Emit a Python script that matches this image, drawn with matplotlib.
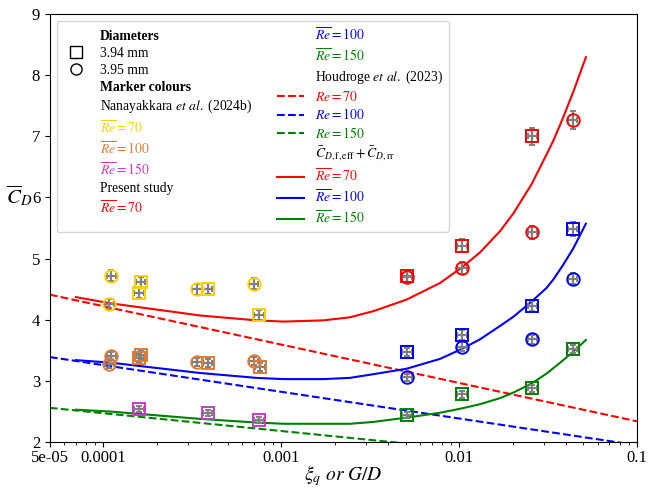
import matplotlib
matplotlib.use("Agg")
import matplotlib.pyplot as plt
from matplotlib.lines import Line2D
import numpy as np

plt.rcParams["font.family"] = "serif"
plt.rcParams["font.serif"] = ["Liberation Serif", "DejaVu Serif"]
plt.rcParams["mathtext.fontset"] = "stix"

# Nanayakkara et al. (2024b) measurements
nan70_circ_x = [1.11e-4, 1.08e-4, 3.36e-4, 7.0e-4]
nan70_circ_y = [4.72, 4.26, 4.50, 4.59]
nan70_sq_x = [1.62e-4, 1.59e-4, 3.87e-4, 7.5e-4]
nan70_sq_y = [4.61, 4.44, 4.51, 4.07]

nan100_circ_x = [1.11e-4, 1.08e-4, 3.36e-4, 7.0e-4]
nan100_circ_y = [3.41, 3.28, 3.31, 3.32]
nan100_sq_x = [1.62e-4, 1.59e-4, 3.87e-4, 7.6e-4]
nan100_sq_y = [3.43, 3.37, 3.30, 3.23]

nan150_sq_x = [1.59e-4, 3.85e-4, 7.5e-4]
nan150_sq_y = [2.54, 2.47, 2.36]

# present study
gd = [0.0051, 0.0104, 0.0258, 0.0435]
ps70_sq = [4.71, 5.21, 7.00]
ps70_circ = [4.70, 4.85, 5.43, 7.27]
ps100_sq = [3.47, 3.75, 4.23, 5.48]
ps100_circ = [3.06, 3.56, 3.68, 4.67]
ps150_sq = [2.45, 2.78, 2.88, 3.52]

# Houdroge et al. (2023), straight in log(x)
houd_x = [5e-5, 0.1]
houd70 = [4.41, 2.34]
houd100 = [3.39, 1.95]
houd150 = [2.56, 1.60]

# model curves C_D,f,eff + C_D,rr
model_x = [7e-5, 1.09e-4, 3.49e-4, 7.26e-4, 1.03e-3, 1.72e-3, 2.43e-3, 3.29e-3,
           5.07e-3, 7.8e-3, 1.03e-2, 1.31e-2, 1.7e-2, 2.02e-2, 2.56e-2, 3.1e-2,
           3.39e-2, 3.85e-2, 4.39e-2, 5.16e-2]
model70 = [4.37, 4.27, 4.07, 3.99, 3.97, 3.99, 4.04, 4.14, 4.33, 4.60, 4.85,
           5.10, 5.45, 5.74, 6.22, 6.70, 6.93, 7.31, 7.73, 8.29]
model100 = [3.34, 3.30, 3.13, 3.05, 3.03, 3.03, 3.05, 3.11, 3.20, 3.36, 3.52,
            3.68, 3.90, 4.05, 4.30, 4.52, 4.66, 4.90, 5.17, 5.57]
model150 = [2.53, 2.50, 2.38, 2.32, 2.30, 2.30, 2.30, 2.33, 2.40, 2.48, 2.55,
            2.62, 2.72, 2.81, 2.96, 3.12, 3.21, 3.34, 3.48, 3.67]

REL_ERR_X = 0.06
REL_ERR_Y = 0.02

c70n, c100n, c150n = "#FFD000", "#E07A35", "#C83CC8"
c70, c100, c150 = "red", "blue", "green"


def plot_points(ax, x, y, marker, color):
    x = np.asarray(x)
    y = np.asarray(y)
    ax.errorbar(x, y, xerr=REL_ERR_X * x, yerr=REL_ERR_Y * y, fmt="none",
                ecolor="gray", elinewidth=1.6, capsize=2.2, capthick=1.4, zorder=3)
    ax.plot(x, y, linestyle="none", marker=marker, markersize=9,
            markerfacecolor="none", markeredgecolor=color, markeredgewidth=1.4, zorder=4)


fig, ax = plt.subplots(figsize=(6.48, 4.94), dpi=100)
fig.subplots_adjust(left=0.077, right=0.983, bottom=0.105, top=0.972)

ax.plot(houd_x, houd70, "--", color=c70, lw=1.5)
ax.plot(houd_x, houd100, "--", color=c100, lw=1.5)
ax.plot(houd_x, houd150, "--", color=c150, lw=1.5)

ax.plot(model_x, model70, "-", color=c70, lw=1.5)
ax.plot(model_x, model100, "-", color=c100, lw=1.5)
ax.plot(model_x, model150, "-", color=c150, lw=1.5)

plot_points(ax, nan70_circ_x, nan70_circ_y, "o", c70n)
plot_points(ax, nan70_sq_x, nan70_sq_y, "s", c70n)
plot_points(ax, nan100_circ_x, nan100_circ_y, "o", c100n)
plot_points(ax, nan100_sq_x, nan100_sq_y, "s", c100n)
plot_points(ax, nan150_sq_x, nan150_sq_y, "s", c150n)

plot_points(ax, gd[:3], ps70_sq, "s", c70)
plot_points(ax, gd, ps70_circ, "o", c70)
plot_points(ax, gd, ps100_sq, "s", c100)
plot_points(ax, gd, ps100_circ, "o", c100)
plot_points(ax, gd, ps150_sq, "s", c150)

ax.set_xscale("log")
ax.set_xlim(5e-5, 0.1)
ax.set_ylim(2, 9)
ax.set_xticks([5e-5, 1e-4, 1e-3, 1e-2, 1e-1])
ax.set_xticklabels(["5e-05", "0.0001", "0.001", "0.01", "0.1"])
ax.tick_params(labelsize=12)
ax.tick_params(axis="x", pad=2)
ax.set_xlabel(r"$\xi_q\ or\ G/D$", fontsize=14, labelpad=-2)
ax.set_ylabel(r"$\overline{C}_D$", fontsize=15, rotation=0)
ax.yaxis.set_label_coords(-0.052, 0.545)

blank = Line2D([], [], linestyle="none")
entries = [
    (blank, "Diameters", "k"),
    (Line2D([], [], ls="none", marker="s", mfc="none", mec="k", ms=8), "3.94 mm", "k"),
    (Line2D([], [], ls="none", marker="o", mfc="none", mec="k", ms=8), "3.95 mm", "k"),
    (blank, "Marker colours", "k"),
    (blank, r"Nanayakkara $\mathit{et\ al.}$ (2024b)", "k"),
    (blank, r"$\overline{Re}=70$", c70n),
    (blank, r"$\overline{Re}=100$", c100n),
    (blank, r"$\overline{Re}=150$", c150n),
    (blank, "Present study", "k"),
    (blank, r"$\overline{Re}=70$", c70),
    (blank, r"$\overline{Re}=100$", c100),
    (blank, r"$\overline{Re}=150$", c150),
    (blank, r"Houdroge $\mathit{et\ al.}$ (2023)", "k"),
    (Line2D([], [], ls="--", color=c70, lw=1.5), r"$Re=70$", c70),
    (Line2D([], [], ls="--", color=c100, lw=1.5), r"$Re=100$", c100),
    (Line2D([], [], ls="--", color=c150, lw=1.5), r"$Re=150$", c150),
    (blank, r"$\bar{C}_{D,\mathrm{f,eff}}+\bar{C}_{D,\mathrm{rr}}$", "k"),
    (Line2D([], [], ls="-", color=c70, lw=1.5), r"$\overline{Re}=70$", c70),
    (Line2D([], [], ls="-", color=c100, lw=1.5), r"$\overline{Re}=100$", c100),
    (Line2D([], [], ls="-", color=c150, lw=1.5), r"$\overline{Re}=150$", c150),
]
leg = ax.legend([e[0] for e in entries], [e[1] for e in entries], ncol=2,
                loc="upper left", fontsize=9.8, labelspacing=0.28,
                columnspacing=1.8, handletextpad=0.8)
for text, e in zip(leg.get_texts(), entries):
    text.set_color(e[2])
    if e[1] in ("Diameters", "Marker colours"):
        text.set_fontweight("bold")

fig.savefig("out.png", dpi=100)
